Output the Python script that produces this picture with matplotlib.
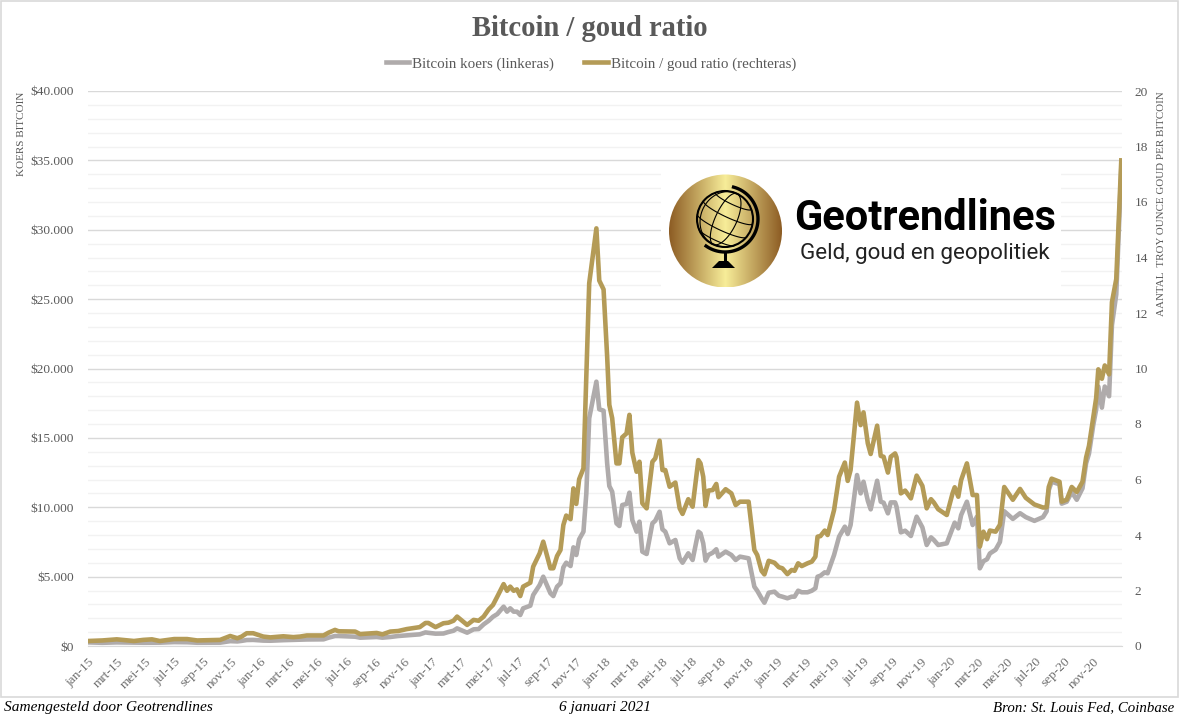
#!/usr/bin/env python3
"""Bitcoin / goud ratio chart with Geotrendlines logo"""

import matplotlib
matplotlib.use('Agg')
import matplotlib.pyplot as plt
from matplotlib.lines import Line2D
from matplotlib.patches import Circle, Rectangle, Polygon
from matplotlib.ticker import FuncFormatter, MultipleLocator
import numpy as np

# months since jan-15
months = [
    0.0, 1.0, 2.0, 3.2, 3.85, 4.45, 5.0, 6.0, 6.9, 7.6,
    9.2, 9.9, 10.4, 10.7, 11.05, 11.5, 12.2, 12.7, 13.6, 14.3,
    14.77, 15.24, 16.4, 16.75, 17.2, 17.45, 18.6, 18.95, 20.1, 20.5,
    21.05, 21.6, 22.2, 23.1, 23.5, 23.7, 24.2, 24.75, 25.1, 25.45,
    25.7, 26.4, 26.85, 27.2, 27.55, 27.9, 28.2, 28.5, 28.94, 29.18,
    29.4, 29.64, 29.87, 30.1, 30.3, 30.8, 31.0, 31.45, 31.7, 32.2,
    32.4, 32.66, 32.9, 33.1, 33.3, 33.6, 33.8, 34.0, 34.2, 34.5,
    34.7, 34.9, 35.4, 35.6, 35.9, 36.15, 36.3, 36.5, 36.8, 37.0,
    37.2, 37.5, 37.7, 37.9, 38.2, 38.4, 38.6, 38.9, 39.3, 39.5,
    39.8, 40.0, 40.2, 40.5, 40.9, 41.2, 41.4, 41.8, 42.1, 42.5,
    42.65, 42.84, 43.0, 43.2, 43.5, 43.75, 43.9, 44.4, 44.8, 45.1,
    45.4, 46.0, 46.4, 46.6, 46.9, 47.1, 47.4, 47.8, 48.1, 48.35,
    48.7, 49.0, 49.2, 49.45, 49.7, 50.1, 50.4, 50.65, 50.8, 51.0,
    51.3, 51.5, 51.95, 52.3, 52.7, 52.9, 53.1, 53.55, 53.8, 54.0,
    54.3, 54.5, 54.95, 55.2, 55.4, 55.7, 55.9, 56.2, 56.3, 56.6,
    56.9, 57.3, 57.7, 58.1, 58.4, 58.7, 58.9, 59.2, 59.8, 60.2,
    60.35, 60.6, 60.8, 61.2, 61.6, 61.9, 62.1, 62.35, 62.6, 62.8,
    63.2, 63.5, 63.8, 64.4, 64.9, 65.3, 65.9, 66.5, 66.75, 66.9,
    67.1, 67.65, 67.8, 68.15, 68.5, 68.85, 69.25, 69.5, 69.7, 70.0,
    70.2, 70.35, 70.6, 70.8, 71.1, 71.3, 71.6, 71.95,
]

ratio = [
    0.18, 0.20, 0.24, 0.18, 0.22, 0.24, 0.18, 0.25, 0.25, 0.20,
    0.22, 0.36, 0.28, 0.34, 0.46, 0.46, 0.34, 0.31, 0.35, 0.32,
    0.34, 0.38, 0.38, 0.48, 0.58, 0.53, 0.52, 0.43, 0.47, 0.42,
    0.52, 0.54, 0.61, 0.68, 0.83, 0.83, 0.68, 0.82, 0.84, 0.91,
    1.06, 0.76, 0.94, 0.91, 1.06, 1.32, 1.48, 1.78, 2.23, 1.99,
    2.14, 1.99, 2.04, 1.80, 2.14, 2.28, 2.86, 3.34, 3.76, 2.80,
    2.80, 3.24, 3.46, 4.36, 4.70, 4.57, 5.68, 5.12, 6.01, 6.40,
    9.71, 13.07, 15.05, 13.17, 12.85, 10.43, 8.69, 8.21, 6.58, 6.58,
    7.52, 7.66, 8.33, 6.97, 6.28, 6.64, 5.14, 4.96, 6.64, 6.76,
    7.40, 6.34, 6.34, 5.74, 5.89, 4.96, 4.76, 5.29, 5.02, 6.70,
    6.58, 6.10, 5.05, 5.60, 5.62, 5.84, 5.36, 5.65, 5.50, 5.08,
    5.20, 5.20, 3.46, 3.28, 2.71, 2.58, 3.07, 3.00, 2.84, 2.80,
    2.59, 2.74, 2.71, 2.98, 2.88, 2.98, 3.04, 3.22, 3.94, 3.96,
    4.16, 4.00, 4.90, 6.10, 6.61, 5.95, 6.34, 8.77, 7.96, 8.42,
    7.30, 6.92, 7.94, 6.85, 6.82, 6.25, 6.82, 6.94, 6.80, 5.50,
    5.60, 5.32, 6.14, 5.77, 4.96, 5.29, 5.17, 4.93, 4.72, 5.50,
    5.72, 5.38, 5.98, 6.58, 5.44, 5.44, 3.58, 4.12, 3.85, 4.16,
    4.12, 4.37, 5.73, 5.27, 5.66, 5.34, 5.10, 4.99, 5.00, 5.73,
    6.03, 5.92, 5.20, 5.27, 5.73, 5.55, 5.92, 6.79, 7.21, 8.24,
    8.93, 9.97, 9.63, 10.11, 9.79, 12.39, 13.22, 17.50,
]

btc = [
    260, 230, 260, 240, 235, 240, 240, 280, 270, 235,
    240, 350, 330, 370, 430, 440, 390, 380, 420, 440,
    450, 470, 480, 600, 720, 720, 670, 600, 650, 600,
    650, 720, 770, 840, 980, 950, 890, 900, 1010, 1100,
    1270, 960, 1200, 1220, 1560, 1820, 2110, 2300, 2835, 2475,
    2715, 2475, 2475, 2235, 2715, 2905, 3675, 4395, 4995, 3800,
    3600, 4275, 4515, 5670, 6005, 5765, 7110, 6560, 7690, 8240,
    11000, 16410, 19050, 17060, 16960, 13165, 11530, 11120, 8840, 8650,
    10160, 10235, 11050, 9080, 8240, 8960, 6800, 6630, 8840, 9030,
    9680, 8410, 8240, 7400, 7640, 6320, 6005, 6680, 6200, 8240,
    8120, 7400, 6150, 6560, 6725, 6970, 6440, 6800, 6560, 6200,
    6440, 6320, 4275, 3985, 3440, 3120, 3840, 3915, 3625, 3555,
    3440, 3555, 3555, 3985, 3870, 3870, 3985, 4160, 4995, 5065,
    5310, 5240, 6560, 7880, 8600, 8070, 8720, 12320, 11000, 11840,
    10470, 9850, 11910, 10400, 10330, 9560, 10350, 10350, 10040, 8190,
    8310, 7930, 9320, 8550, 7280, 7830, 7640, 7280, 7400, 8480,
    8890, 8480, 9440, 10400, 8720, 9320, 5600, 6110, 6250, 6670,
    6940, 7500, 9710, 9160, 9570, 9290, 9020, 9290, 9710, 11230,
    11840, 11650, 10260, 10400, 11090, 10540, 11370, 13170, 13860, 15930,
    17040, 18700, 17180, 18700, 18000, 23130, 25340, 34400,
]

month_names = ['jan', 'mrt', 'mei', 'jul', 'sep', 'nov']
tick_labels = [f'{name}-{year}' for year in range(15, 21) for name in month_names]
tick_months = list(range(0, 72, 2))

GREY = '#afabab'
GOLD = '#b49b57'
TEXT = '#595959'
SERIF = 'Liberation Serif'
LINE_W = 3.3
W, H = 1180, 722


def money(v, pos):
    return '$' + f'{int(v):,}'.replace(',', '.')


fig = plt.figure(figsize=(W / 100, H / 100), dpi=100, facecolor='white')
ax = fig.add_axes([88 / W, 1 - 646 / H, (1122 - 88) / W, 555 / H])
ax2 = ax.twinx()

# left axis and gridlines
ax.set_xlim(0, 72)
ax.set_ylim(0, 40000)
ax.yaxis.set_major_locator(MultipleLocator(5000))
ax.yaxis.set_minor_locator(MultipleLocator(1000))
ax.yaxis.set_major_formatter(FuncFormatter(money))
ax.grid(True, which='major', axis='y', color='#d9d9d9', lw=1)
ax.grid(True, which='minor', axis='y', color='#f2f2f2', lw=1)
ax.set_axisbelow(True)
ax.tick_params(axis='y', which='both', length=0, pad=10, labelsize=9.6, labelcolor=TEXT)
for label in ax.get_yticklabels():
    label.set_family(SERIF)

ax.set_xticks(tick_months)
ax.set_xticklabels(tick_labels, rotation=45, ha='right', rotation_mode='anchor',
                   family=SERIF, fontsize=9.6, color='#6e6e6e')
ax.tick_params(axis='x', length=0, pad=7)

ax.plot(months, btc, color=GREY, lw=LINE_W, solid_joinstyle='round', zorder=3)

# right axis
ax2.set_ylim(0, 20)
ax2.yaxis.set_major_locator(MultipleLocator(2))
ax2.tick_params(axis='y', length=0, pad=9, labelsize=9.6, labelcolor=TEXT)
for label in ax2.get_yticklabels():
    label.set_family(SERIF)
ax2.plot(months, ratio, color=GOLD, lw=LINE_W, solid_joinstyle='round', zorder=3)

for side in ['top', 'left', 'right']:
    ax.spines[side].set_visible(False)
    ax2.spines[side].set_visible(False)
ax.spines['bottom'].set_color('#d9d9d9')
ax2.spines['bottom'].set_visible(False)

# axis titles
fig.text(22 / W, 1 - 92 / H, 'KOERS BITCOIN', rotation=90, ha='center', va='top',
         family=SERIF, fontsize=8, color=TEXT)
fig.text(1162 / W, 1 - 91 / H, 'AANTAL  TROY OUNCE GOUD PER BITCOIN', rotation=90,
         ha='center', va='top', family=SERIF, fontsize=7.9, color=TEXT)

# title and legend
fig.text(590 / W, 1 - 28 / H, 'Bitcoin / goud ratio', ha='center', va='center',
         family=SERIF, fontsize=20.6, fontweight='bold', color=TEXT)
handles = [Line2D([], [], color=GREY, lw=LINE_W), Line2D([], [], color=GOLD, lw=LINE_W)]
fig.legend(handles, ['Bitcoin koers (linkeras)', 'Bitcoin / goud ratio (rechteras)'],
           ncol=2, loc='center', bbox_to_anchor=(591 / W, 1 - 64 / H), frameon=False,
           prop={'family': SERIF, 'size': 10.8}, labelcolor=TEXT, handlelength=1.55,
           handletextpad=0.2, columnspacing=2.0)

# overlay in pixel coordinates for logo, border and footer
ov = fig.add_axes([0, 0, 1, 1], zorder=10)
ov.set_xlim(0, W)
ov.set_ylim(H, 0)
ov.axis('off')
ov.patch.set_alpha(0)

ov.add_patch(Rectangle((1, 1), W - 3, 696, fill=False, ec='#d9d9d9', lw=1.2))
ov.add_patch(Rectangle((661, 165), 400, 128, fc='white', ec='none'))

# gold coin
stops = [0.0, 0.5, 1.0]
shade = np.linspace(0, 1, 256)
rgb = np.array([
    np.interp(shade, stops, [0.55, 0.97, 0.55]),
    np.interp(shade, stops, [0.36, 0.93, 0.36]),
    np.interp(shade, stops, [0.14, 0.60, 0.14]),
]).T[None, :, :]
coin = ov.imshow(rgb, extent=(669, 782, 287.5, 175), aspect='auto', zorder=11)
coin.set_clip_path(Circle((725.5, 231), 56.5, transform=ov.transData))
ov.set_xlim(0, W)
ov.set_ylim(H, 0)

# globe
gx, gy, gr = 725, 219, 28
tilt = np.radians(25)
t = np.linspace(-np.pi / 2, np.pi / 2, 60)


def globe_line(px, py):
    x = px * np.cos(tilt) - py * np.sin(tilt)
    y = px * np.sin(tilt) + py * np.cos(tilt)
    ov.plot(gx + gr * x, gy + gr * y, color='black', lw=0.8, zorder=12)


for lon in np.radians([-60, -20, 25]):
    globe_line(np.sin(lon) * np.cos(t), np.sin(t))
for lat in np.radians([-45, -15, 15, 45]):
    globe_line(np.cos(lat) * np.sin(t), np.sin(lat) + 0.18 * np.cos(lat) * np.cos(t))
ov.add_patch(Circle((gx, gy), gr, fill=False, ec='black', lw=1.5, zorder=12))
arc = np.radians(np.linspace(-75, 125, 60))
ov.plot(gx + 33 * np.cos(arc), gy + 33 * np.sin(arc), color='black', lw=2.4, zorder=12)
ov.plot([gx, gx], [gy + 33, gy + 42], color='black', lw=2.2, zorder=12)
ov.add_patch(Polygon([(712, 268), (735, 268), (728, 261), (719, 261)], fc='black', ec='none', zorder=12))

ov.text(925, 219, 'Geotrendlines', ha='center', va='center', family='Roboto',
        fontsize=30, fontweight='bold', color='black', zorder=12)
ov.text(925, 254, 'Geld, goud en geopolitiek', ha='center', va='center', family='Roboto',
        fontsize=16.1, color='#222222', zorder=12)

# footer
ov.text(4, 708, 'Samengesteld door Geotrendlines', ha='left', va='center', family=SERIF,
        fontsize=11.1, style='italic', color='black')
ov.text(605, 707, '6 januari 2021', ha='center', va='center', family=SERIF,
        fontsize=11.1, style='italic', color='black')
ov.text(1174, 708, 'Bron: St. Louis Fed, Coinbase', ha='right', va='center', family=SERIF,
        fontsize=10.7, style='italic', color='black')

fig.savefig('out.png', dpi=100, facecolor='white')
